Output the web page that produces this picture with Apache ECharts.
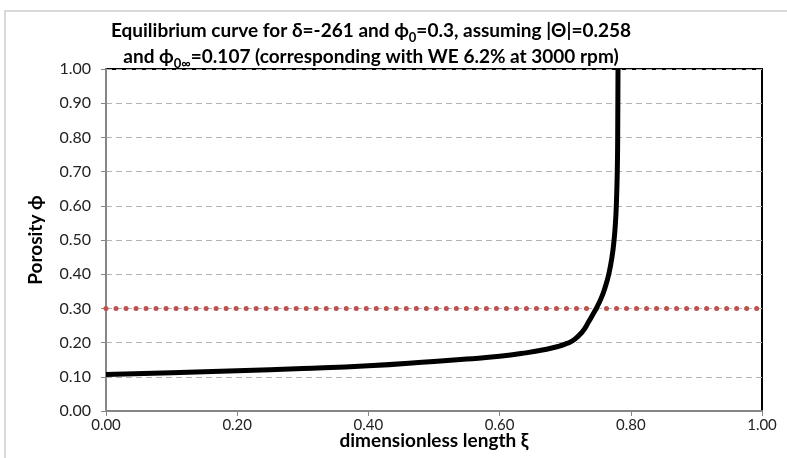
<!DOCTYPE html>
<html>
<head>
<meta charset="utf-8">
<script src="https://cdn.jsdelivr.net/npm/echarts@6/dist/echarts.min.js"></script>
<style>html,body{margin:0;padding:0;background:#fff}#c{width:787px;height:458px}</style>
</head>
<body>
<div id="c"></div>
<script>
// Data
const xTicks = [0, 0.2, 0.4, 0.6, 0.8, 1.0];
const yTicks = [0, 0.1, 0.2, 0.3, 0.4, 0.5, 0.6, 0.7, 0.8, 0.9, 1.0];
const curveXi = [0, 0.1, 0.2, 0.3, 0.4, 0.5, 0.55, 0.6, 0.64, 0.67, 0.69, 0.700, 0.709, 0.7165, 0.7235, 0.7295, 0.7355, 0.7415, 0.7474, 0.7549, 0.7606, 0.7664, 0.7713, 0.7745, 0.7766, 0.7779, 0.7794, 0.7800, 0.7805];
const curvePhi = [0.107, 0.112, 0.118, 0.124, 0.132, 0.145, 0.152, 0.160, 0.170, 0.180, 0.189, 0.1955, 0.203, 0.213, 0.226, 0.24, 0.26, 0.28, 0.30, 0.33, 0.36, 0.40, 0.45, 0.50, 0.55, 0.60, 0.70, 0.80, 1.00];
const refXi = [0, 1];
const refPhi = [0.3, 0.3];

const chart = echarts.init(document.getElementById('c'));
const font = 'Lato, "Liberation Sans", sans-serif';
chart.setOption({
  animation: false,
  backgroundColor: '#fff',
  graphic: [{
    type: 'polyline', silent: true,
    shape: { points: [[5, 460], [5, 11], [790, 11]] },
    style: { stroke: '#d9d9d9', lineWidth: 2, fill: null }
  }],
  title: {
    text: '{n|Equilibrium curve for δ=-261 and ϕ}{s|0}{n|=0.3, assuming |Θ|=0.258}\n{n|and ϕ}{s|0∞}{n|=0.107 (corresponding with WE 6.2% at 3000 rpm)}',
    left: 366, top: 13, textAlign: 'center',
    textStyle: {
      fontFamily: font, fontWeight: 'bold', fontSize: 19, color: '#000',
      rich: {
        n: { fontFamily: font, fontWeight: 'bold', fontSize: 19, lineHeight: 26, color: '#000', verticalAlign: 'middle' },
        s: { fontFamily: font, fontWeight: 'bold', fontSize: 13, lineHeight: 12, color: '#000', verticalAlign: 'bottom' }
      }
    }
  },
  grid: { left: 106, right: 25, top: 69, bottom: 47, outerBoundsMode: 'none', containLabel: false, show: true, borderColor: '#000', borderWidth: 2, backgroundColor: '#fff' },
  xAxis: {
    type: 'value', min: 0, max: 1, interval: 0.2,
    name: 'dimensionless length ξ', nameLocation: 'middle', nameGap: 20, nameMoveOverlap: false,
    nameTextStyle: { fontFamily: font, fontWeight: 'bold', fontSize: 19, color: '#000' },
    axisLine: { show: true, lineStyle: { color: '#868686', width: 2 } },
    axisTick: { show: true, length: 5, lineStyle: { color: '#868686' } },
    axisLabel: { fontFamily: font, fontSize: 15, color: '#222', margin: 7, formatter: v => v.toFixed(2) },
    splitLine: { show: false }
  },
  yAxis: {
    type: 'value', min: 0, max: 1, interval: 0.1,
    name: 'Porosity ϕ', nameLocation: 'middle', nameGap: 61, nameRotate: 90, nameMoveOverlap: false,
    nameTextStyle: { fontFamily: font, fontWeight: 'bold', fontSize: 19, color: '#000' },
    axisLine: { show: true, lineStyle: { color: '#868686', width: 2 } },
    axisTick: { show: true, length: 5, lineStyle: { color: '#868686' } },
    axisLabel: { fontFamily: font, fontSize: 16, color: '#222', margin: 15, formatter: v => v.toFixed(2) },
    splitLine: { show: true, lineStyle: { color: '#b3b3b3', width: 1, type: [6, 4] } }
  },
  series: [
    {
      type: 'line', data: refXi.map((x, i) => [x, refPhi[i]]), showSymbol: false, z: 2,
      lineStyle: { color: '#c0504d', width: 5, type: [0.01, 10], cap: 'round' }
    },
    {
      type: 'line', data: curveXi.map((x, i) => [x, curvePhi[i]]), showSymbol: false, smooth: 0.5, z: 3,
      lineStyle: { color: '#000', width: 5, join: 'round' }
    }
  ]
});
</script>
</body>
</html>
